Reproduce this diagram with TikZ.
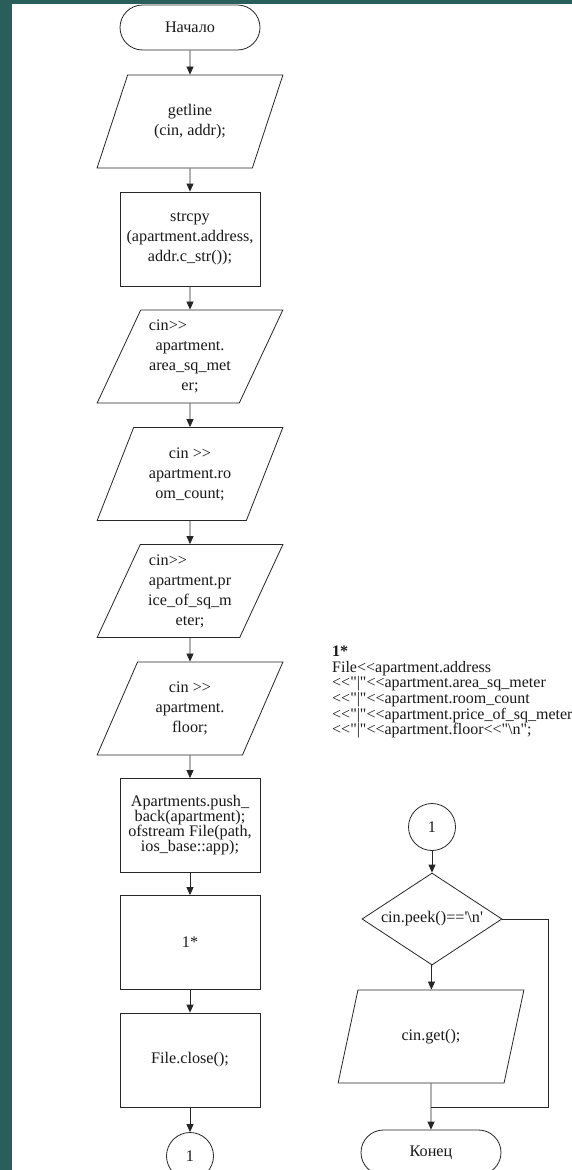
\documentclass[tikz,border=0pt]{standalone}
\usepackage{fontspec}
\setmainfont{Liberation Serif}[Ligatures=TeXOff]
\usepackage{xcolor}
\usepackage{tikz}
\usetikzlibrary{shapes,arrows,positioning,shapes.geometric,shapes.misc,calc,arrows.meta}
\definecolor{slidebg}{HTML}{2A5E5B}

\begin{document}
\begin{tikzpicture}[x=1pt, y=-1pt,
        every node/.style={font=\fontsize{16.2}{20}\selectfont, text=black!90},
        terminal/.style={
                rounded rectangle,
                draw=black!85,
                line width=0.8pt,
                minimum width=140pt,
                minimum height=45pt,
                inner sep=0pt,
        },
        process/.style={
                rectangle,
                draw=black!85,
                line width=0.8pt,
                minimum width=140pt,
                minimum height=94pt,
                inner sep=1pt,
                align=center,
        },
        inout/.style={
                trapezium,
                trapezium left angle=63.7,
                trapezium right angle=116.3,
                trapezium stretches=true,
                draw=black!85,
                line width=0.8pt,
                minimum width=186pt,
                minimum height=93pt,
                inner sep=1pt,
                align=center,
        },
        decision/.style={
                diamond,
                draw=black!85,
                line width=0.8pt,
                aspect=1.52,
                minimum width=140pt,
                minimum height=92pt,
                inner sep=0pt,
        },
        connector/.style={circle, draw=black!85, line width=0.8pt, minimum size=47pt, inner sep=0pt},
        flow/.style={draw=black!85, line width=0.8pt, -{Triangle[length=8pt, width=7pt]}},
        plain/.style={draw=black!85, line width=0.8pt},
        ]
            \fill[slidebg] (0, 0) rectangle (572, 1170);
            \fill[white] (12, 4) rectangle (572, 1170);
            \useasboundingbox (0, 0) rectangle (572, 1170);

            \node[terminal] (start) at (190, 27.5) {Начало};
            \node[inout] (in1) at (190, 121.5) {getline\\(cin, addr);};
            \node[process] (p2) at (190, 239) {strcpy\\(apartment.address,\\addr.c\_str());};
            \node[inout] (in3) at (190, 356.5) {cin>>\hspace*{44pt}\\apartment.\\area\_sq\_met\\er;};
            \node[inout] (in4) at (190, 474) {cin >>\\apartment.ro\\om\_count;};
            \node[inout] (in5) at (190, 591) {cin>>\hspace*{44pt}\\apartment.pr\\ice\_of\_sq\_m\\eter;};
            \node[inout] (in6) at (190, 708.5) {cin >>\\apartment.\\floor;};
            \node[process, font=\fontsize{16.2}{15}\selectfont] (p7) at (190, 825.5) {Apartments.push\_\\back(apartment);\\ofstream File(path,\\ios\_base::app);};
            \node[process] (p8) at (190, 942.5) {1*};
            \node[process] (p9) at (190, 1060) {File.close();};
            \node[connector] (c1) at (190, 1156) {1};

            \node[anchor=north west, align=left, inner sep=0pt, font=\fontsize{16}{15.6}\selectfont] (note) at (332, 646)
                {\textbf{1*}\\File<<apartment.address\\<<"|"<<apartment.area\_sq\_meter\\<<"|"<<apartment.room\_count\\<<"|"<<apartment.price\_of\_sq\_meter\\<<"|"<<apartment.floor<<"\textbackslash n";};

            \node[connector] (c2) at (432, 827) {1};
            \node[decision] (dec) at (432, 919) {cin.peek()=='\textbackslash n'};
            \node[inout] (in10) at (431, 1036.5) {cin.get();};
            \node[terminal] (stop) at (431, 1152.5) {Конец};
            \coordinate (join) at (431, 1107);

            \foreach \a/\b in {start/in1, in1/p2, p2/in3, in3/in4, in4/in5, in5/in6, in6/p7, p7/p8, p8/p9, p9/c1, c2/dec, dec/in10}
                \draw[flow] (\a) -- (\b);
            \draw[flow] (in10.south) -- (stop.north);
            \draw[plain] (dec.east) -- ++(46, 0) |- (join);
        \end{tikzpicture}
\end{document}
